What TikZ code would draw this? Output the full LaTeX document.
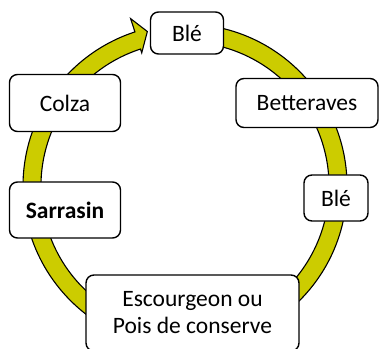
\documentclass[tikz,border=0pt]{standalone}
\usepackage{fontspec}
\setmainfont{Carlito}
\usepackage{xcolor}
\usepackage{tikz}
\definecolor{ringC}{rgb}{0.8,0.8,0}
\tikzset{
  crop/.style={draw=black, line width=1.4pt, rounded corners=8pt, fill=white,
    align=center, inner sep=0pt, font=\fontsize{23.5}{27}\selectfont},
}

\begin{document}
\begin{tikzpicture}[x=1pt,y=1pt]
        \useasboundingbox (0,0) rectangle (379,348);
        \clip (0,0) rectangle (379,348);
        % ring with arrow
        \begin{scope}[shift={(185,162)}]
        \filldraw[fill=ringC, draw=black, line width=1.1pt]
          (85:162) arc[start angle=85, end angle=-252, radius=162]
          -- (-252:176) -- (-256.3:159) -- (-252:140)
          -- (-252:144) arc[start angle=-252, end angle=85, radius=144] -- cycle;
        \end{scope}
        \node[crop, minimum width=73pt, minimum height=42pt] (ble1) at (187,315) {Blé};
        \node[crop, minimum width=142pt, minimum height=49pt] (betteraves) at (307,245) {Betteraves};
        \node[crop, minimum width=64pt, minimum height=46pt] (ble2) at (336,150) {Blé};
        \node[crop, minimum width=213pt, minimum height=76pt] (escourgeon) at (192.5,35) {Escourgeon ou\\Pois de conserve};
        \node[crop, minimum width=111pt, minimum height=56pt] (sarrasin) at (65,138) {\bfseries Sarrasin};
        \node[crop, minimum width=111pt, minimum height=57pt] (colza) at (65,245) {Colza};
\end{tikzpicture}
\end{document}
